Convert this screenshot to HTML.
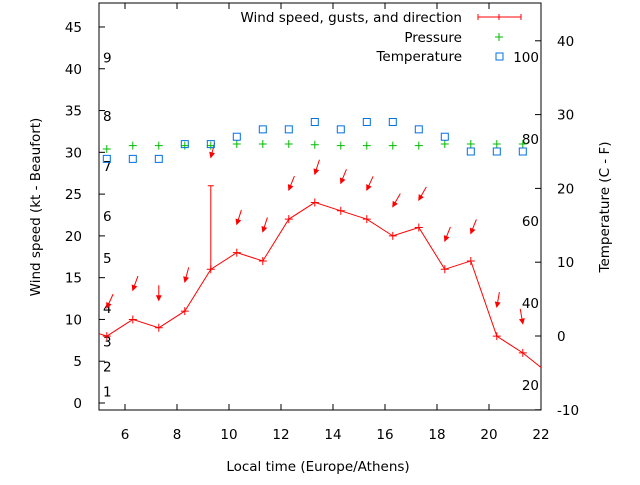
<!DOCTYPE html>
<html><head><meta charset="utf-8"><style>body{margin:0;background:#fff}text{font-family:"DejaVu Sans","Liberation Sans",sans-serif;font-size:13.5px;fill:#000}</style></head>
<body>
<svg id="c" width="640" height="480" xmlns="http://www.w3.org/2000/svg">
<defs><clipPath id="clip"><rect x="99" y="3" width="442" height="407"/></clipPath></defs>
<g id="g"></g>
</svg>
<script>
const hours=[4.3,5.3,6.3,7.3,8.3,9.3,10.3,11.3,12.3,13.3,14.3,15.3,16.3,17.3,18.3,19.3,20.3,21.3,22.3];
const wind=[9,8,10,9,11,16,18,17,22,24,23,22,20,21,16,17,8,6,3.5];
const gustHours=[9.3];
const gusts=[26];
const ptHours=[5.3,6.3,7.3,8.3,9.3,10.3,11.3,12.3,13.3,14.3,15.3,16.3,17.3,18.3,19.3,20.3,21.3];
const pressure=[30.4,30.8,30.8,30.8,30.8,31.0,31.0,31.0,30.9,30.8,30.8,30.8,30.8,31.0,31.0,31.0,31.0];
const temperature=[24,24,24,26,26,27,28,28,29,28,29,29,28,27,25,25,25];
const arrowTip=[11.4,13.5,12.3,14.5,29.4,21.4,20.5,25.5,27.4,26.3,25.5,23.5,24.3,19.4,20.3,11.5,9.5];
const arrowDir=[25,20,0,15,15,18,18,22,18,22,25,30,30,22,22,10,-10];
const xTicks=[6,8,10,12,14,16,18,20,22];
const yTicks=[0,5,10,15,20,25,30,35,40,45];
const y2Ticks=[-10,0,10,20,30,40];
const beaufort=[1,2,3,4,5,6,7,8,9];
const beaufortY=[1,4,7,11,17,22,28,34,41];
const fahr=[20,40,60,80,100];

const X=h=>99+(h-5)*26;
const Y=v=>403-v*8.356;
const Y2=t=>336-t*7.38;
const g=document.getElementById('g');
const NS='http://www.w3.org/2000/svg';
function mk(tag,at,parent){const e=document.createElementNS(NS,tag);for(const k in at)e.setAttribute(k,at[k]);(parent||g).appendChild(e);return e;}

let fr=mk('rect',{x:99,y:3,width:442,height:407,fill:'none',stroke:'#000','stroke-width':1});

xTicks.forEach(t=>{const x=X(t);mk('line',{x1:x,y1:410,x2:x,y2:404,stroke:'#000'});mk('line',{x1:x,y1:3,x2:x,y2:9,stroke:'#000'});
 const tx=mk('text',{x:x,y:439,'text-anchor':'middle'});tx.textContent=t;
 });
yTicks.forEach(t=>{const y=Y(t);mk('line',{x1:99,y1:y,x2:105,y2:y,stroke:'#000'});
 const tx=mk('text',{x:82,y:y+5,'text-anchor':'end'});tx.textContent=t;
 });
y2Ticks.forEach(t=>{const y=Y2(t);mk('line',{x1:541,y1:y,x2:535,y2:y,stroke:'#000'});
 const tx=mk('text',{x:557,y:y+5});tx.textContent=t;
 });
beaufort.forEach((b,i)=>{const tx=mk('text',{x:103,y:Y(beaufortY[i])+2});tx.textContent=b;
 });
fahr.forEach(f=>{const t=(f-32)/1.8;const tx=mk('text',{x:539,y:Y2(t)+5,'text-anchor':'end'});tx.textContent=f;
 });

const cg=mk('g',{'clip-path':'url(#clip)'});
const wl=mk('polyline',{points:hours.map((h,i)=>X(h)+','+Y(wind[i])).join(' '),fill:'none',stroke:'#f00','stroke-width':1},cg);

hours.forEach((h,i)=>{const x=X(h),y=Y(wind[i]);const p=mk('path',{d:`M${x-4} ${y}H${x+4}M${x} ${y-4}V${y+4}`,stroke:'#f00'},cg);
 });
gustHours.forEach((h,i)=>{const x=X(h);const wi=hours.indexOf(h);const p=mk('path',{d:`M${x} ${Y(wind[wi])}V${Y(gusts[i])}M${x-3} ${Y(gusts[i])}H${x+3}`,stroke:'#f00'},cg);
 });
ptHours.forEach((h,i)=>{const x=X(h),y=Y(arrowTip[i]);const a=arrowDir[i]*Math.PI/180;
 const tx=x+15*Math.sin(a),ty=y-15*Math.cos(a);
 const ag=mk('g',{},cg);
 mk('line',{x1:tx,y1:ty,x2:x,y2:y,stroke:'#f00'},ag);
 const ang=Math.atan2(y-ty,x-tx);
 const p1=[x-5*Math.cos(ang-0.45),y-5*Math.sin(ang-0.45)],p2=[x-5*Math.cos(ang+0.45),y-5*Math.sin(ang+0.45)];
 mk('polygon',{points:`${x},${y} ${p1} ${p2}`,fill:'#f00',stroke:'#f00'},ag);});
ptHours.forEach((h,i)=>{const x=X(h),y=Y(pressure[i]);const p=mk('path',{d:`M${x-4} ${y}H${x+4}M${x} ${y-4}V${y+4}`,stroke:'#0b0'},cg);
 });
ptHours.forEach((h,i)=>{const x=X(h),y=Y2(temperature[i]);const r=mk('rect',{x:x-3.5,y:y-3.5,width:7,height:7,fill:'none',stroke:'#0070e0'},cg);
 });

const lg=mk('g',{});
[['Wind speed, gusts, and direction',22],['Pressure',42],['Temperature',61]].forEach(([t,y])=>{const tx=mk('text',{x:462,y:y,'text-anchor':'end'},lg);tx.textContent=t;
 });
mk('path',{d:'M478 17H521M478 14V20M521 14V20M499 14V20',stroke:'#f00'},lg);
mk('path',{d:'M495 37H503M499 33V41',stroke:'#0b0'},lg);
mk('rect',{x:496,y:53,width:7,height:7,fill:'none',stroke:'#0070e0'},lg);

let t1=mk('text',{x:318,y:471,'text-anchor':'middle'});t1.textContent='Local time (Europe/Athens)';

let t2=mk('text',{x:0,y:0,'text-anchor':'middle',transform:'translate(40,207) rotate(-90)'});t2.textContent='Wind speed (kt - Beaufort)';

let t3=mk('text',{x:0,y:0,'text-anchor':'middle',transform:'translate(609,207) rotate(-90)'});t3.textContent='Temperature (C - F)';

</script>
</body></html>
